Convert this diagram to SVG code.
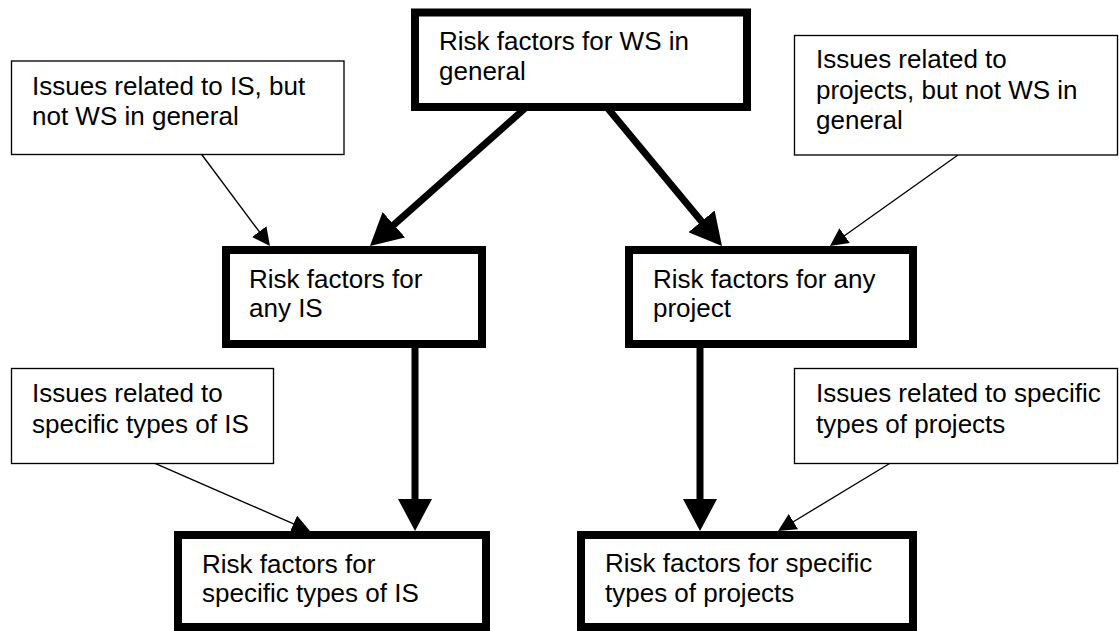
<svg xmlns="http://www.w3.org/2000/svg" width="1119" height="631" viewBox="0 0 1119 631">
<style>
.thick{fill:#fff;stroke:#000;stroke-width:8}
.thin{fill:#fff;stroke:#000;stroke-width:1.33}
.t{font-family:"Liberation Sans",Arial,sans-serif;font-size:26px;fill:#000}
.cb{stroke:#000;stroke-width:7;fill:none}
.cs{stroke:#000;stroke-width:1.33;fill:none}
</style>
<defs>
<marker id="hb" markerUnits="userSpaceOnUse" markerWidth="32" markerHeight="34" refX="4" refY="17" orient="auto" viewBox="0 0 32 34">
<path d="M0,0 L32,17 L0,34 Z" fill="#000"/>
</marker>
<marker id="hs" markerUnits="userSpaceOnUse" markerWidth="18" markerHeight="18" refX="2" refY="9" orient="auto" viewBox="0 0 18 18">
<path d="M0,0 L18,9 L0,18 Z" fill="#000"/>
</marker>
</defs>
<rect width="1119" height="631" fill="#fff"/>
<g id="connectors">
<line class="cb" x1="526.5" y1="107" x2="390.9" y2="227.4" marker-end="url(#hb)"/>
<line class="cb" x1="606.7" y1="107" x2="704.1" y2="224.4" marker-end="url(#hb)"/>
<line class="cb" x1="415" y1="345" x2="415" y2="503" marker-end="url(#hb)"/>
<line class="cb" x1="700" y1="345" x2="700" y2="503" marker-end="url(#hb)"/>
<line class="cs" x1="201.7" y1="154.5" x2="260.4" y2="233.2" marker-end="url(#hs)"/>
<line class="cs" x1="958" y1="155" x2="843" y2="236.7" marker-end="url(#hs)"/>
<line class="cs" x1="155" y1="463.3" x2="295.3" y2="524.6" marker-end="url(#hs)"/>
<line class="cs" x1="890" y1="463.3" x2="791.7" y2="522.7" marker-end="url(#hs)"/>
</g>
<g id="n-ws">
<rect class="thick" x="415" y="12.5" width="332" height="94.5"/>
<text class="t" x="439" y="49.5">Risk factors for WS in</text>
<text class="t" x="439" y="80">general</text>
</g>
<g id="n-is-issues">
<rect class="thin" x="11.5" y="61" width="332.5" height="93.5"/>
<text class="t" x="32" y="95">Issues related to IS, but</text>
<text class="t" x="32" y="125">not WS in general</text>
</g>
<g id="n-proj-issues">
<rect class="thin" x="794.5" y="35.5" width="323" height="119.5"/>
<text class="t" x="816" y="68">Issues related to</text>
<text class="t" x="816" y="98.5">projects, but not WS in</text>
<text class="t" x="816" y="129">general</text>
</g>
<g id="n-any-is">
<rect class="thick" x="226" y="250" width="256" height="94"/>
<text class="t" x="249" y="288">Risk factors for</text>
<text class="t" x="249" y="317">any IS</text>
</g>
<g id="n-any-proj">
<rect class="thick" x="629" y="250" width="284" height="94"/>
<text class="t" x="653" y="288">Risk factors for any</text>
<text class="t" x="653" y="317">project</text>
</g>
<g id="n-spec-is-issues">
<rect class="thin" x="11.5" y="368.5" width="262" height="95"/>
<text class="t" x="32" y="402">Issues related to</text>
<text class="t" x="32" y="433">specific types of IS</text>
</g>
<g id="n-spec-proj-issues">
<rect class="thin" x="794.5" y="368.5" width="323" height="95"/>
<text class="t" x="816" y="402">Issues related to specific</text>
<text class="t" x="816" y="433">types of projects</text>
</g>
<g id="n-spec-is">
<rect class="thick" x="178" y="535" width="308" height="92"/>
<text class="t" x="202" y="573">Risk factors for</text>
<text class="t" x="202" y="602">specific types of IS</text>
</g>
<g id="n-spec-proj">
<rect class="thick" x="581" y="535" width="332" height="92"/>
<text class="t" x="605" y="572">Risk factors for specific</text>
<text class="t" x="605" y="602">types of projects</text>
</g>
</svg>
